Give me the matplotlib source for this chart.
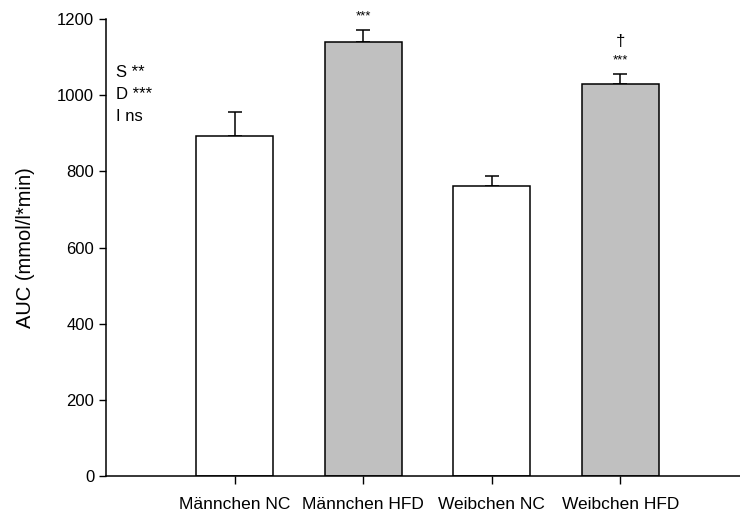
import matplotlib
matplotlib.use("Agg")
import matplotlib.pyplot as plt

categories = ["Männchen NC", "Männchen HFD", "Weibchen NC", "Weibchen HFD"]
values = [893, 1139, 761, 1029]
errors = [64, 32, 26, 27]
colors = ["white", "#c0c0c0", "white", "#c0c0c0"]
bar_marks = ["", "***", "", "***"]
dagger_marks = ["", "", "", "†"]
stats_text = ["S **", "D ***", "I ns"]
yticks = [0, 200, 400, 600, 800, 1000, 1200]

plt.rcParams["font.family"] = ["Liberation Sans", "DejaVu Sans"]

fig = plt.figure(figsize=(7.4, 5.12), dpi=100)
ax = fig.add_axes([106/740, 1 - 476/512, 1 - 106/740, (476 - 19)/512])

x = list(range(1, len(categories) + 1))
ax.bar(x, values, width=0.6, color=colors, edgecolor="black", linewidth=1.1, zorder=2)
ax.errorbar(x, values, yerr=[[0]*len(errors), errors], fmt="none", ecolor="black",
            elinewidth=1.1, capsize=4.7, capthick=1.1, zorder=1)

for xi, v, e, m, d in zip(x, values, errors, bar_marks, dagger_marks):
    if m:
        ax.text(xi, v + e + 20, m, ha="center", va="bottom", fontsize=9.5)
    if d:
        ax.text(xi, v + e + 65, d, ha="center", va="bottom", fontsize=12)

for i, t in enumerate(stats_text):
    ax.text(0.08, 1060 - i*58, t, ha="left", va="center", fontsize=12)

ax.set_xlim(0, 4.93)
ax.set_ylim(0, 1200)
ax.set_yticks(yticks)
ax.set_xticks(x)
ax.set_xticklabels(categories, fontsize=12.5)
ax.tick_params(axis="y", labelsize=12, direction="out", length=5, width=1)
ax.tick_params(axis="x", direction="out", length=6, width=1, pad=9)
ax.set_ylabel("AUC (mmol/l*min)", fontsize=14.5, labelpad=16)
for s in ["top", "right"]:
    ax.spines[s].set_visible(False)
for s in ["left", "bottom"]:
    ax.spines[s].set_linewidth(1.1)

fig.savefig("out.png", dpi=100)
